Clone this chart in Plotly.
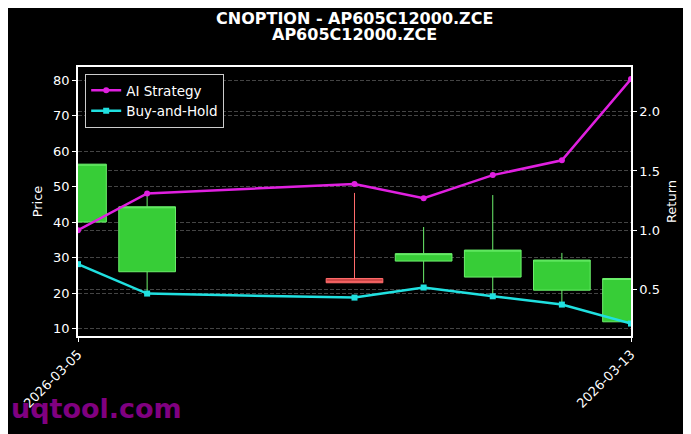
import plotly.graph_objects as go

# datos
fechas = ['2026-03-05', '2026-03-06', '2026-03-09', '2026-03-10',
          '2026-03-11', '2026-03-12', '2026-03-13']
apertura = [40.0, 26.0, 24.1, 29.0, 24.5, 20.8, 11.9]
maximo = [56.3, 48.0, 48.2, 38.6, 47.6, 31.3, 24.1]
minimo = [40.0, 20.0, 22.9, 22.9, 18.9, 16.6, 11.9]
cierre = [56.3, 44.3, 22.9, 31.1, 32.1, 29.3, 24.1]

ai_strategy = [1.00, 1.31, 1.39, 1.27, 1.465, 1.59, 2.276]
buy_and_hold = [0.714, 0.466, 0.432, 0.517, 0.443, 0.373, 0.213]

ticks_x = ['2026-03-05', '2026-03-13']

fig = go.Figure()

fig.add_trace(go.Candlestick(
    x=fechas,
    open=apertura,
    high=maximo,
    low=minimo,
    close=cierre,
    increasing=dict(line=dict(color='#6cf06c', width=1), fillcolor='#37cd37'),
    decreasing=dict(line=dict(color='#ff6b6b', width=1), fillcolor='#cd4646'),
    whiskerwidth=0,
    showlegend=False,
    yaxis='y'
))

fig.add_trace(go.Scatter(
    x=fechas,
    y=ai_strategy,
    name='AI Strategy',
    mode='lines+markers',
    line=dict(color='#e020e0', width=2.5),
    marker=dict(symbol='circle', size=6, color='#e020e0'),
    yaxis='y2'
))

fig.add_trace(go.Scatter(
    x=fechas,
    y=buy_and_hold,
    name='Buy-and-Hold',
    mode='lines+markers',
    line=dict(color='#20e0e0', width=2.5),
    marker=dict(symbol='square', size=6, color='#20e0e0'),
    yaxis='y2'
))

fuente = dict(family='DejaVu Sans', size=13, color='white')
fuente_titulo = dict(family='DejaVu Sans', size=16, color='white')

# la pagina tiene 8px de margen, por eso la figura es 8px mas pequena
fig.update_layout(
    width=683,
    height=426,
    paper_bgcolor='black',
    plot_bgcolor='black',
    font=fuente,
    margin=dict(l=70, r=60, t=59, b=98),
    boxgap=0.18,
    boxgroupgap=0,
    xaxis=dict(
        type='date',
        range=['2026-03-05', '2026-03-13'],
        rangeslider=dict(visible=False),
        tickvals=ticks_x,
        ticktext=ticks_x,
        tickangle=-45,
        showgrid=False,
        showline=True,
        linecolor='white',
        linewidth=1.5,
        mirror=True,
        ticks='outside',
        tickcolor='white',
        ticklen=4,
        zeroline=False
    ),
    yaxis=dict(
        title=dict(text='Price', standoff=8, font=fuente),
        range=[7.9, 83.67],
        dtick=10,
        showline=True,
        linecolor='white',
        linewidth=1.5,
        ticks='outside',
        tickcolor='white',
        ticklen=4,
        gridcolor='#444444',
        griddash='4px,2px',
        gridwidth=0.6,
        zeroline=False
    ),
    yaxis2=dict(
        title=dict(text='Return', standoff=8, font=fuente),
        overlaying='y',
        side='right',
        range=[0.108, 2.377],
        tickvals=[0.5, 1.0, 1.5, 2.0],
        tickformat='.1f',
        showline=True,
        linecolor='white',
        linewidth=1.5,
        ticks='outside',
        tickcolor='white',
        ticklen=4,
        gridcolor='#444444',
        griddash='4px,2px',
        gridwidth=0.6,
        zeroline=False
    ),
    legend=dict(
        x=0.013, y=0.974, xanchor='left', yanchor='top',
        bgcolor='black',
        bordercolor='#cccccc',
        borderwidth=1,
        font=dict(family='DejaVu Sans', size=13.5, color='white'),
        itemwidth=30
    ),
    annotations=[
        dict(text='<b>CNOPTION - AP605C12000.ZCE</b>',
             xref='paper', yref='paper', x=0.5, y=1.18,
             xanchor='center', yanchor='middle', showarrow=False,
             font=fuente_titulo),
        dict(text='<b>AP605C12000.ZCE</b>',
             xref='paper', yref='paper', x=0.5, y=1.122,
             xanchor='center', yanchor='middle', showarrow=False,
             font=fuente_titulo),
        dict(text='<b>uqtool.com</b>',
             xref='paper', yref='paper', x=-0.125, y=-0.27,
             xanchor='left', yanchor='middle', showarrow=False,
             font=dict(family='DejaVu Sans', size=27, color='#800080'))
    ]
)

fig.write_html("out.html")
